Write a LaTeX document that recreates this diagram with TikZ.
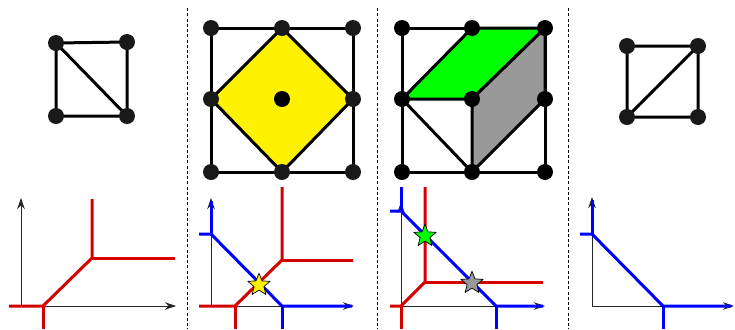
\documentclass[tikz,border=0pt]{standalone}
\usetikzlibrary{arrows.meta,shapes.geometric}
\definecolor{tropred}{RGB}{212,0,0}
\definecolor{facegreen}{RGB}{0,255,0}
\definecolor{facegray}{RGB}{153,153,153}

\begin{document}
\begin{tikzpicture}[x=0.2mm,y=-0.2mm,line join=round,
  edge/.style={line width=0.6mm},
  dot/.style={fill=black!90},
  axis/.style={black!85,line width=0.45pt,-{Stealth[length=2.2mm,width=1.5mm]}},
  redline/.style={tropred,line width=0.6mm},
  blueline/.style={blue,line width=0.6mm},
  sepline/.style={line width=0.45pt,dash pattern=on 0.6mm off 0.45mm},
  solstar/.style={star,star points=5,star point ratio=2.3,draw=black,line width=0.4pt,inner sep=0pt,minimum size=4.7mm}]
\useasboundingbox (0,0) rectangle (735,329);

% separators
\draw[sepline] (187,8) -- (187,329);
\draw[sepline] (377,8) -- (377,329);
\draw[sepline] (568,8) -- (568,329);

% first triangulation
\coordinate (a1) at (56,43);
\coordinate (b1) at (127,42);
\coordinate (c1) at (56,116);
\coordinate (d1) at (127,116);
\draw[edge] (a1) -- (b1) -- (d1) -- (c1) -- cycle (a1) -- (d1);
\foreach \p in {a1,b1,c1,d1} \fill[dot] (\p) circle[radius=1.6mm];

% Minkowski sum, mixed cell
\foreach \i/\x in {1/211,2/282,3/353}
  \foreach \j/\y in {1/28,2/99,3/172}
    \coordinate (m\i\j) at (\x,\y);
\draw[edge] (m11) -- (m31) -- (m33) -- (m13) -- cycle;
\filldraw[edge,fill=yellow] (m21) -- (m32) -- (m23) -- (m12) -- cycle;
\foreach \p in {m11,m21,m31,m12,m32,m13,m23,m33} \fill[dot] (\p) circle[radius=1.6mm];
\fill (m22) circle[radius=1.6mm];

% Minkowski sum, two mixed cells
\foreach \i/\x in {1/402,2/472,3/545}
  \foreach \j/\y in {1/28,2/99,3/172}
    \coordinate (n\i\j) at (\x,\y);
\draw[edge] (n11) -- (n31) -- (n33) -- (n13) -- cycle;
\filldraw[edge,fill=facegreen] (n12) -- (n21) -- (n31) -- (n22) -- cycle;
\filldraw[edge,fill=facegray] (n22) -- (n31) -- (n32) -- (n23) -- cycle;
\draw[edge] (n12) -- (n23);
\foreach \i in {1,2,3}
  \foreach \j in {1,2,3}
    \fill (n\i\j) circle[radius=1.6mm];

% second triangulation
\coordinate (a4) at (627,46);
\coordinate (b4) at (698,46);
\coordinate (c4) at (627,117);
\coordinate (d4) at (698,117);
\draw[edge] (a4) -- (b4) -- (d4) -- (c4) -- cycle (c4) -- (b4);
\foreach \p in {a4,b4,c4,d4} \fill[dot] (\p) circle[radius=1.6mm];

% tropical curve, red
\coordinate (o5) at (21,306);
\draw[axis] (o5) -- (176,306);
\draw[axis] (o5) -- (21,198);
\coordinate (v5) at (43,306);
\coordinate (w5) at (92,258);
\draw[redline] (9,306) -- (v5) -- (w5) -- (92,199);
\draw[redline] (v5) -- (43,329);
\draw[redline] (w5) -- (175,258);

% red and blue, one crossing
\coordinate (o6) at (211,306);
\draw[axis] (o6) -- (354,306);
\draw[axis] (o6) -- (211,198);
\coordinate (v6) at (235,306);
\coordinate (w6) at (282,260);
\draw[redline] (199,306) -- (v6) -- (w6) -- (282,187);
\draw[redline] (v6) -- (235,329);
\draw[redline] (w6) -- (353,260);
\coordinate (p6) at (211,234);
\coordinate (q6) at (282,306);
\draw[blueline] (199,234) -- (p6) -- (q6) -- (352,306);
\draw[blueline] (p6) -- (211,201);
\draw[blueline] (q6) -- (282,329);
\node[solstar,fill=yellow] (s6) at (259,285) {};

% red and blue, two crossings
\coordinate (o7) at (401,306);
\draw[axis] (o7) -- (545,306);
\draw[axis] (o7) -- (401,202);
\coordinate (w7) at (425,282);
\draw[redline] (390,306) -- (o7) -- (w7) -- (425,187);
\draw[redline] (o7) -- (401,329);
\draw[redline] (w7) -- (543,282);
\coordinate (p7) at (401,211);
\coordinate (q7) at (496,306);
\draw[blueline] (390,211) -- (p7) -- (q7) -- (543,306);
\draw[blueline] (p7) -- (401,187);
\draw[blueline] (q7) -- (496,329);
\node[solstar,fill=facegreen] (s7a) at (425,236) {};
\node[solstar,fill=facegray] (s7b) at (472,283) {};

% tropical curve, blue
\coordinate (o8) at (592,306);
\draw[axis] (o8) -- (734,306);
\draw[axis] (o8) -- (592,197);
\coordinate (p8) at (592,234);
\coordinate (q8) at (663,306);
\draw[blueline] (580,234) -- (p8) -- (q8) -- (731,306);
\draw[blueline] (p8) -- (592,200);
\draw[blueline] (q8) -- (663,329);
\end{tikzpicture}
\end{document}
